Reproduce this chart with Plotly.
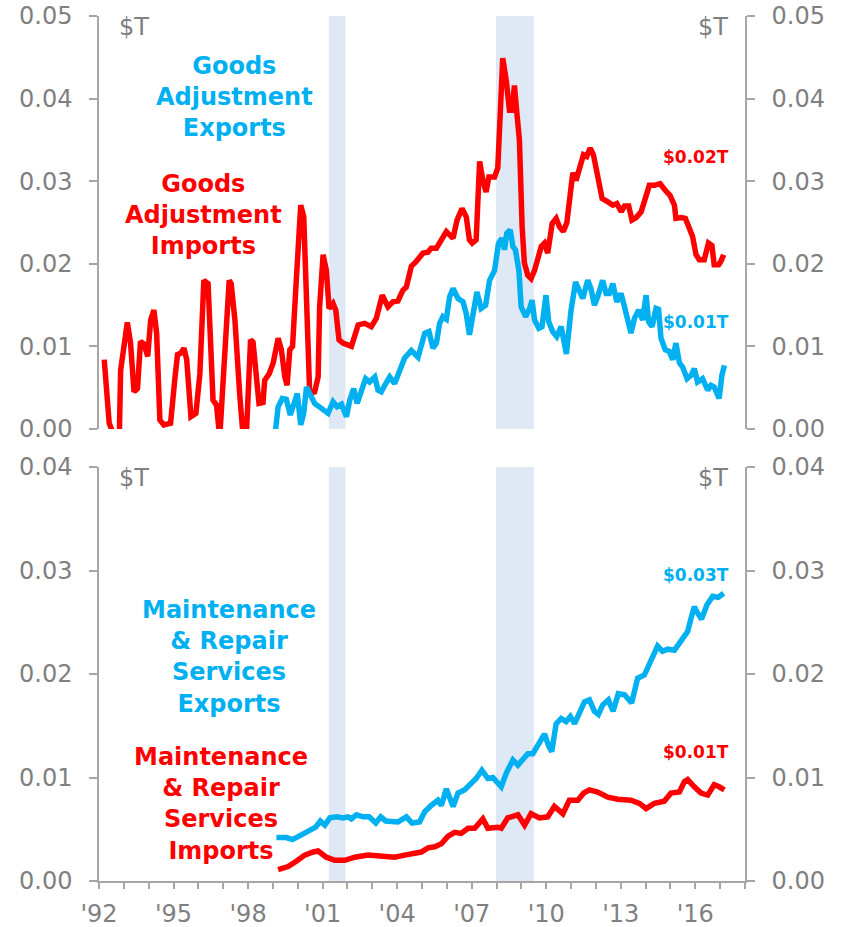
import plotly.graph_objects as go

# ---------------- data ----------------
goods_imp_x = [1992.21, 1992.41, 1992.58, 1992.82, 1992.87, 1993.14, 1993.27, 1993.41, 1993.55, 1993.67,
               1993.81, 1993.96, 1994.08, 1994.21, 1994.32, 1994.45, 1994.61, 1994.88, 1995.06, 1995.16,
               1995.30, 1995.42, 1995.53, 1995.70, 1995.90, 1996.06, 1996.22, 1996.39, 1996.59, 1996.73,
               1996.86, 1997.24, 1997.32, 1997.47, 1997.67, 1997.80, 1997.93, 1998.10, 1998.20, 1998.34,
               1998.44, 1998.60, 1998.67, 1998.85, 1999.01, 1999.21, 1999.34, 1999.48, 1999.57, 1999.68,
               1999.79, 1999.94, 2000.12, 2000.24, 2000.35, 2000.48, 2000.68, 2000.82, 2000.88, 2001.02,
               2001.15, 2001.26, 2001.42, 2001.53, 2001.66, 2001.82, 2002.16, 2002.43, 2002.69, 2002.96,
               2003.16, 2003.40, 2003.63, 2003.83, 2004.03, 2004.23, 2004.37, 2004.57, 2004.77, 2005.04,
               2005.24, 2005.37, 2005.58, 2005.78, 2005.98, 2006.25, 2006.41, 2006.61, 2006.78, 2006.91,
               2007.02, 2007.18, 2007.25, 2007.32, 2007.45, 2007.58, 2007.69, 2007.92, 2008.05, 2008.12,
               2008.25, 2008.39, 2008.52, 2008.63, 2008.72, 2008.82, 2008.92, 2009.03, 2009.12, 2009.26,
               2009.39, 2009.53, 2009.66, 2009.80, 2009.93, 2010.06, 2010.24, 2010.40, 2010.53, 2010.69,
               2010.83, 2011.07, 2011.20, 2011.34, 2011.50, 2011.63, 2011.77, 2011.90, 2012.07, 2012.25,
               2012.48, 2012.68, 2012.84, 2013.02, 2013.15, 2013.32, 2013.45, 2013.62, 2013.82, 2013.99,
               2014.15, 2014.35, 2014.58, 2014.79, 2014.98, 2015.16, 2015.22, 2015.42, 2015.60, 2015.76,
               2015.89, 2016.03, 2016.16, 2016.36, 2016.53, 2016.67, 2016.76, 2016.94, 2017.03, 2017.14]
goods_imp_y = [0.0084, 0.0007, -0.0006, -0.0006, 0.0071, 0.0129, 0.0104, 0.0045, 0.0049, 0.0106,
               0.0103, 0.0088, 0.0132, 0.0144, 0.0116, 0.0011, 0.0005, 0.0007, 0.0063, 0.0090,
               0.0092, 0.0098, 0.0084, 0.0015, 0.0019, 0.0067, 0.0180, 0.0176, 0.0035, 0.0029,
               -0.0010, 0.0180, 0.0176, 0.0132, 0.0039, -0.0008, -0.0008, 0.0108, 0.0105, 0.0063,
               0.0031, 0.0032, 0.0059, 0.0067, 0.0080, 0.0110, 0.0096, 0.0063, 0.0053, 0.0096,
               0.0100, 0.0180, 0.0271, 0.0257, 0.0156, 0.0043, 0.0045, 0.0063, 0.0148, 0.0211,
               0.0192, 0.0146, 0.0152, 0.0144, 0.0108, 0.0104, 0.0100, 0.0126, 0.0128, 0.0124,
               0.0134, 0.0162, 0.0148, 0.0154, 0.0155, 0.0168, 0.0172, 0.0197, 0.0203, 0.0213,
               0.0214, 0.0219, 0.0219, 0.0229, 0.0239, 0.0231, 0.0253, 0.0267, 0.0257, 0.0229,
               0.0225, 0.0229, 0.0277, 0.0324, 0.0301, 0.0287, 0.0305, 0.0305, 0.0316, 0.0374,
               0.0449, 0.0422, 0.0386, 0.0386, 0.0416, 0.0382, 0.0350, 0.0245, 0.0201, 0.0186,
               0.0182, 0.0192, 0.0209, 0.0221, 0.0225, 0.0213, 0.0249, 0.0255, 0.0245, 0.0239,
               0.0250, 0.0310, 0.0301, 0.0318, 0.0332, 0.0330, 0.0340, 0.0332, 0.0304, 0.0279,
               0.0275, 0.0271, 0.0273, 0.0263, 0.0270, 0.0270, 0.0253, 0.0256, 0.0263, 0.0281,
               0.0295, 0.0295, 0.0297, 0.0289, 0.0283, 0.0271, 0.0255, 0.0256, 0.0255, 0.0243,
               0.0233, 0.0211, 0.0205, 0.0205, 0.0225, 0.0222, 0.0199, 0.0199, 0.0203, 0.0211]

goods_exp_x = [1999.08, 1999.21, 1999.38, 1999.54, 1999.70, 1999.88, 1999.98, 2000.12, 2000.24, 2000.35,
               2000.48, 2000.68, 2000.95, 2001.22, 2001.42, 2001.58, 2001.76, 2001.96, 2002.09, 2002.25,
               2002.39, 2002.56, 2002.73, 2002.89, 2003.10, 2003.23, 2003.36, 2003.50, 2003.70, 2003.90,
               2004.10, 2004.30, 2004.57, 2004.84, 2005.11, 2005.28, 2005.44, 2005.58, 2005.71, 2005.84,
               2005.98, 2006.11, 2006.25, 2006.45, 2006.65, 2006.78, 2006.91, 2007.05, 2007.21, 2007.38,
               2007.56, 2007.72, 2007.92, 2008.08, 2008.22, 2008.32, 2008.41, 2008.55, 2008.66, 2008.76,
               2008.90, 2008.99, 2009.17, 2009.33, 2009.43, 2009.53, 2009.70, 2009.83, 2009.99, 2010.10,
               2010.26, 2010.42, 2010.60, 2010.81, 2011.00, 2011.18, 2011.31, 2011.47, 2011.67, 2011.80,
               2011.94, 2012.07, 2012.27, 2012.41, 2012.54, 2012.68, 2012.84, 2013.01, 2013.15, 2013.28,
               2013.41, 2013.55, 2013.72, 2013.88, 2014.02, 2014.12, 2014.26, 2014.42, 2014.52, 2014.62,
               2014.79, 2014.95, 2015.09, 2015.22, 2015.36, 2015.49, 2015.67, 2015.83, 2015.96, 2016.09,
               2016.29, 2016.50, 2016.63, 2016.76, 2016.96, 2017.07, 2017.17]
goods_exp_y = [-0.0008, 0.0027, 0.0037, 0.0036, 0.0017, 0.0037, 0.0043, 0.0005, 0.0019, 0.0051,
               0.0043, 0.0031, 0.0025, 0.0019, 0.0033, 0.0027, 0.0030, 0.0015, 0.0035, 0.0049,
               0.0031, 0.0049, 0.0061, 0.0057, 0.0063, 0.0047, 0.0045, 0.0053, 0.0063, 0.0055,
               0.0071, 0.0086, 0.0095, 0.0087, 0.0116, 0.0118, 0.0098, 0.0104, 0.0128, 0.0136,
               0.0133, 0.0160, 0.0170, 0.0158, 0.0154, 0.0140, 0.0114, 0.0136, 0.0166, 0.0146,
               0.0150, 0.0180, 0.0192, 0.0225, 0.0231, 0.0217, 0.0237, 0.0241, 0.0221, 0.0217,
               0.0192, 0.0148, 0.0136, 0.0146, 0.0156, 0.0132, 0.0122, 0.0124, 0.0162, 0.0130,
               0.0118, 0.0112, 0.0124, 0.0091, 0.0144, 0.0178, 0.0170, 0.0158, 0.0180, 0.0170,
               0.0150, 0.0160, 0.0180, 0.0164, 0.0164, 0.0176, 0.0154, 0.0164, 0.0148, 0.0130,
               0.0116, 0.0134, 0.0144, 0.0132, 0.0162, 0.0130, 0.0124, 0.0146, 0.0145, 0.0110,
               0.0096, 0.0094, 0.0084, 0.0104, 0.0080, 0.0075, 0.0061, 0.0065, 0.0073, 0.0057,
               0.0061, 0.0047, 0.0053, 0.0051, 0.0037, 0.0065, 0.0077]

maint_exp_x = [1999.14, 1999.54, 1999.79, 2000.08, 2000.42, 2000.72, 2000.91, 2001.09, 2001.29, 2001.56,
               2001.82, 2002.02, 2002.16, 2002.36, 2002.63, 2002.87, 2003.14, 2003.34, 2003.54, 2003.77,
               2004.03, 2004.37, 2004.60, 2004.90, 2005.11, 2005.37, 2005.64, 2005.78, 2005.98, 2006.25,
               2006.45, 2006.71, 2006.98, 2007.18, 2007.41, 2007.65, 2007.85, 2008.05, 2008.19, 2008.39,
               2008.66, 2008.86, 2009.06, 2009.26, 2009.46, 2009.66, 2009.93, 2010.09, 2010.22, 2010.40,
               2010.60, 2010.80, 2010.97, 2011.14, 2011.34, 2011.54, 2011.74, 2011.94, 2012.10, 2012.27,
               2012.50, 2012.69, 2012.90, 2013.15, 2013.44, 2013.68, 2013.95, 2014.22, 2014.48, 2014.68,
               2014.89, 2015.16, 2015.42, 2015.69, 2015.83, 2015.96, 2016.09, 2016.25, 2016.47, 2016.70,
               2016.92, 2017.14]
maint_exp_y = [0.0042, 0.0042, 0.0040, 0.0044, 0.0049, 0.0052, 0.0058, 0.0054, 0.0061, 0.0062,
               0.0061, 0.0062, 0.0060, 0.0064, 0.0062, 0.0062, 0.0056, 0.0062, 0.0058, 0.0058,
               0.0057, 0.0062, 0.0056, 0.0057, 0.0067, 0.0073, 0.0078, 0.0073, 0.0089, 0.0072,
               0.0085, 0.0088, 0.0094, 0.0099, 0.0107, 0.0099, 0.0100, 0.0095, 0.0091, 0.0104,
               0.0117, 0.0112, 0.0117, 0.0123, 0.0123, 0.0131, 0.0142, 0.0131, 0.0125, 0.0152,
               0.0157, 0.0154, 0.0159, 0.0152, 0.0162, 0.0173, 0.0175, 0.0164, 0.0161, 0.0170,
               0.0175, 0.0164, 0.0181, 0.0180, 0.0172, 0.0196, 0.0199, 0.0215, 0.0227, 0.0222,
               0.0224, 0.0223, 0.0233, 0.0241, 0.0254, 0.0265, 0.0259, 0.0253, 0.0267, 0.0275,
               0.0274, 0.0278]

maint_imp_x = [1999.21, 1999.61, 1999.94, 2000.28, 2000.62, 2000.82, 2001.15, 2001.49, 2001.89, 2002.29,
               2002.83, 2003.36, 2003.90, 2004.30, 2004.64, 2004.97, 2005.24, 2005.51, 2005.78, 2006.04,
               2006.31, 2006.58, 2006.85, 2007.12, 2007.45, 2007.65, 2008.05, 2008.19, 2008.45, 2008.86,
               2009.13, 2009.39, 2009.73, 2010.06, 2010.33, 2010.67, 2010.93, 2011.27, 2011.51, 2011.74,
               2012.07, 2012.48, 2012.88, 2013.41, 2013.75, 2014.02, 2014.35, 2014.75, 2015.02, 2015.36,
               2015.56, 2015.69, 2015.96, 2016.23, 2016.50, 2016.76, 2016.96, 2017.17]
maint_imp_y = [0.0011, 0.0014, 0.0019, 0.0025, 0.0028, 0.0029, 0.0023, 0.0020, 0.0020, 0.0023,
               0.0025, 0.0024, 0.0023, 0.0025, 0.0027, 0.0028, 0.0032, 0.0033, 0.0036, 0.0043,
               0.0047, 0.0046, 0.0051, 0.0051, 0.0060, 0.0051, 0.0052, 0.0051, 0.0061, 0.0064,
               0.0054, 0.0065, 0.0061, 0.0062, 0.0072, 0.0065, 0.0078, 0.0078, 0.0085, 0.0088,
               0.0086, 0.0081, 0.0079, 0.0078, 0.0075, 0.0070, 0.0075, 0.0077, 0.0085, 0.0086,
               0.0096, 0.0098, 0.0091, 0.0085, 0.0083, 0.0093, 0.0091, 0.0088]

recessions = [(2001.25, 2001.92), (2007.98, 2009.5)]
years = list(range(1992, 2019))
year_labels = ["'%02d" % (y % 100) if (y - 1992) % 3 == 0 and y < 2018 else "" for y in years]
top_ticks = [0.0, 0.01, 0.02, 0.03, 0.04, 0.05]
bot_ticks = [0.0, 0.01, 0.02, 0.03, 0.04]

RED = "#ff0000"
CYAN = "#00b0f0"
GRAY = "#808080"
AXC = "#a6a6a6"
FONT = "DejaVu Sans"

fig = go.Figure()

def line(x, y, color, xa, ya):
    fig.add_trace(go.Scatter(x=x, y=y, mode="lines", line=dict(color=color, width=5.5),
                             xaxis=xa, yaxis=ya, showlegend=False, hoverinfo="skip"))

line(goods_imp_x, goods_imp_y, RED, "x", "y")
line(goods_exp_x, goods_exp_y, CYAN, "x", "y")
line(maint_exp_x, maint_exp_y, CYAN, "x2", "y3")
line(maint_imp_x, maint_imp_y, RED, "x2", "y3")
# invisible traces to activate right-hand axes
fig.add_trace(go.Scatter(x=goods_exp_x, y=goods_exp_y, mode="lines", opacity=0, xaxis="x", yaxis="y2",
                         showlegend=False, hoverinfo="skip"))
fig.add_trace(go.Scatter(x=maint_exp_x, y=maint_exp_y, mode="lines", opacity=0, xaxis="x2", yaxis="y4",
                         showlegend=False, hoverinfo="skip"))

shapes = []
for (a, b) in recessions:
    shapes.append(dict(type="rect", xref="x", yref="y", x0=a, x1=b, y0=0, y1=0.05,
                       fillcolor="#dfe8f5", line=dict(width=0), layer="below"))
    shapes.append(dict(type="rect", xref="x2", yref="y3", x0=a, x1=b, y0=0, y1=0.04,
                       fillcolor="#dfe8f5", line=dict(width=0), layer="below"))

yax_common = dict(showgrid=False, zeroline=False, showline=True, linecolor=AXC, linewidth=1.5,
                  ticks="outside", ticklen=8, tickcolor=AXC, tickwidth=1.5, tickformat=".2f",
                  tickfont=dict(family=FONT, size=24, color=GRAY), ticklabelstandoff=12,
                  ticklabeloverflow="allow", automargin=False)

# body margin removed (see post_script), so the figure fills the 846x927 window
fig.update_layout(
    width=846, height=927,
    margin=dict(l=99, r=101, t=16, b=46, autoexpand=False),
    paper_bgcolor="white", plot_bgcolor="white",
    showlegend=False,
    shapes=shapes,
    xaxis=dict(domain=[0, 1], range=[1992, 2018], anchor="y", showline=False, showgrid=False,
               zeroline=False, showticklabels=False, ticks="", automargin=False),
    xaxis2=dict(domain=[0, 1], range=[1992, 2018], anchor="y3", showline=True, linecolor=AXC,
                linewidth=1.5, showgrid=False, zeroline=False, ticks="outside", ticklen=6,
                tickcolor=AXC, tickwidth=1.5, tickmode="array", tickvals=years, ticktext=year_labels,
                tickfont=dict(family=FONT, size=24, color=GRAY), ticklabelstandoff=4,
                ticklabeloverflow="allow", automargin=False),
    yaxis=dict(domain=[0.5225, 1], range=[0, 0.05], anchor="x", tickvals=top_ticks, **yax_common),
    yaxis2=dict(range=[0, 0.05], anchor="x", overlaying="y", side="right", tickvals=top_ticks, **yax_common),
    yaxis3=dict(domain=[0, 0.4786], range=[0, 0.04], anchor="x2", tickvals=bot_ticks, **yax_common),
    yaxis4=dict(range=[0, 0.04], anchor="x2", overlaying="y3", side="right", tickvals=bot_ticks, **yax_common),
)

def ann(text, x, y, xref, yref, color, size, bold=False, xanchor="center"):
    t = "<b>%s</b>" % text if bold else text
    fig.add_annotation(text=t, x=x, y=y, xref=xref, yref=yref, showarrow=False, xanchor=xanchor,
                       yanchor="middle", align="center",
                       font=dict(family=FONT, size=size, color=color))

# unit labels
ann("$T", 1993.4, 0.0487, "x", "y", GRAY, 24)
ann("$T", 2016.7, 0.0487, "x", "y", GRAY, 24)
ann("$T", 1993.4, 0.0389, "x2", "y3", GRAY, 24)
ann("$T", 2016.7, 0.0389, "x2", "y3", GRAY, 24)

# series labels
ann("Goods<br>Adjustment<br>Exports", 1997.47, 0.0402, "x", "y", CYAN, 24, bold=True)
ann("Goods<br>Adjustment<br>Imports", 1996.22, 0.0259, "x", "y", RED, 24, bold=True)
ann("Maintenance<br>&amp; Repair<br>Services<br>Exports", 1997.25, 0.0216, "x2", "y3", CYAN, 24, bold=True)
ann("Maintenance<br>&amp; Repair<br>Services<br>Imports", 1996.93, 0.0074, "x2", "y3", RED, 24, bold=True)

# end value labels
ann("$0.02T", 2016.04, 0.0329, "x", "y", RED, 17, bold=True)
ann("$0.01T", 2016.04, 0.0130, "x", "y", CYAN, 17, bold=True)
ann("$0.03T", 2016.04, 0.0296, "x2", "y3", CYAN, 17, bold=True)
ann("$0.01T", 2016.04, 0.0125, "x2", "y3", RED, 17, bold=True)

fig.write_html("out.html", config={"displayModeBar": False},
               post_script="document.body.style.margin='0';document.body.style.overflow='hidden';")
